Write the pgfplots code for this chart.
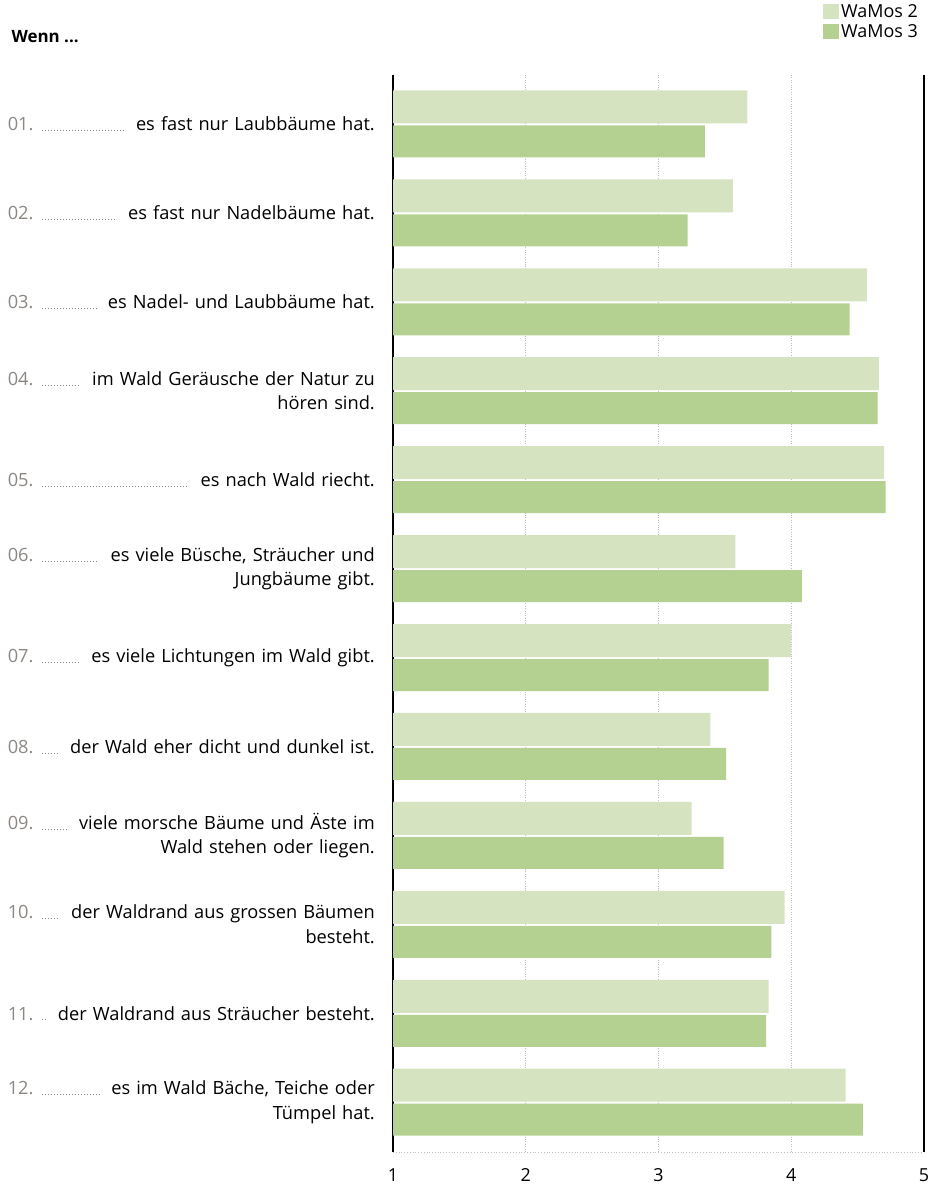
\documentclass[border=0pt]{standalone}
\usepackage{fontspec}
\setmainfont{Open Sans}
\usepackage{pgfplots}
\pgfplotsset{compat=1.18}

\definecolor{wam2}{HTML}{D5E3C0}
\definecolor{wam3}{HTML}{B4D191}
\definecolor{numgray}{HTML}{8C8782}
\definecolor{gridgray}{HTML}{BDBDBD}

% label: number, dotted leader, first line, optional second line
\newcommand{\lab}[3]{\hbox to 367bp{\color{numgray}#1.\hskip 7bp\leaders\hbox to 3bp{\hss\rule{0.6bp}{0.6bp}\hss}\hfill\hskip 10bp\color{black}#2}\ifx\relax#3\relax\else\\#3\fi}

\begin{document}
\begin{tikzpicture}
\useasboundingbox (0,0) rectangle (940bp,-1187bp);
\node[anchor=base west, font=\fontsize{17}{20}\selectfont\bfseries] at (8bp,-42bp) {Wenn ...};
\begin{axis}[
  at={(393bp,-1152bp)}, anchor=south west,
  scale only axis, width=531bp, height=1077bp,
  xmin=1, xmax=5, ymin=0.45, ymax=12.56,
  y dir=reverse,
  axis line style={draw=none},
  major tick length=0pt,
  xtick={2,3,4},
  extra x ticks={1,5},
  xmajorgrids,
  major grid style={gridgray, dotted, line width=0.8bp},
  extra x tick style={grid=major, major grid style={black, solid, line width=2.5bp}},
  ytick={1,...,12},
  yticklabels={
    {\lab{01}{es fast nur Laubbäume hat.}{}},
    {\lab{02}{es fast nur Nadelbäume hat.}{}},
    {\lab{03}{es Nadel- und Laubbäume hat.}{}},
    {\lab{04}{im Wald Geräusche der Natur zu}{hören sind.}},
    {\lab{05}{es nach Wald riecht.}{}},
    {\lab{06}{es viele Büsche, Sträucher und}{Jungbäume gibt.}},
    {\lab{07}{es viele Lichtungen im Wald gibt.}{}},
    {\lab{08}{der Wald eher dicht und dunkel ist.}{}},
    {\lab{09}{viele morsche Bäume und Äste im}{Wald stehen oder liegen.}},
    {\lab{10}{der Waldrand aus grossen Bäumen}{besteht.}},
    {\lab{11}{der Waldrand aus Sträucher besteht.}{}},
    {\lab{12}{es im Wald Bäche, Teiche oder}{Tümpel hat.}}
  },
  yticklabel style={anchor=east, align=right, text width=367bp, inner sep=0pt, xshift=-18bp,
    font=\fontsize{18.3}{24.5}\selectfont},
  xticklabel style={inner sep=0pt, yshift=-16bp, font=\fontsize{18}{20}\selectfont},
  /pgf/number format/assume math mode=true,
  legend style={draw=none, fill=none, inner sep=0pt, at={(1,1)}, anchor=north east,
    yshift=73bp, xshift=-4bp, font=\fontsize{18}{20}\selectfont,
    row sep=2bp, /tikz/every even column/.append style={column sep=8bp}},
  legend cell align=left,
  legend image code/.code={\fill[#1] (0bp,-7.5bp) rectangle (16bp,7.5bp);},
]
\addplot[xbar, bar width=33bp, bar shift=17bp, fill=wam2, draw=none]
  coordinates {(3.67,1) (3.56,2) (4.57,3) (4.66,4) (4.70,5) (3.58,6) (4.00,7) (3.39,8) (3.25,9) (3.95,10) (3.83,11) (4.41,12)};
\addplot[xbar, bar width=32bp, bar shift=-17.5bp, fill=wam3, draw=none]
  coordinates {(3.35,1) (3.22,2) (4.44,3) (4.65,4) (4.71,5) (4.08,6) (3.83,7) (3.51,8) (3.49,9) (3.85,10) (3.81,11) (4.54,12)};
\legend{WaMos 2, WaMos 3}
\draw[gridgray, dotted, line width=0.8bp] (axis cs:1,12.56) -- (axis cs:5,12.56);
\end{axis}
\end{tikzpicture}
\end{document}
